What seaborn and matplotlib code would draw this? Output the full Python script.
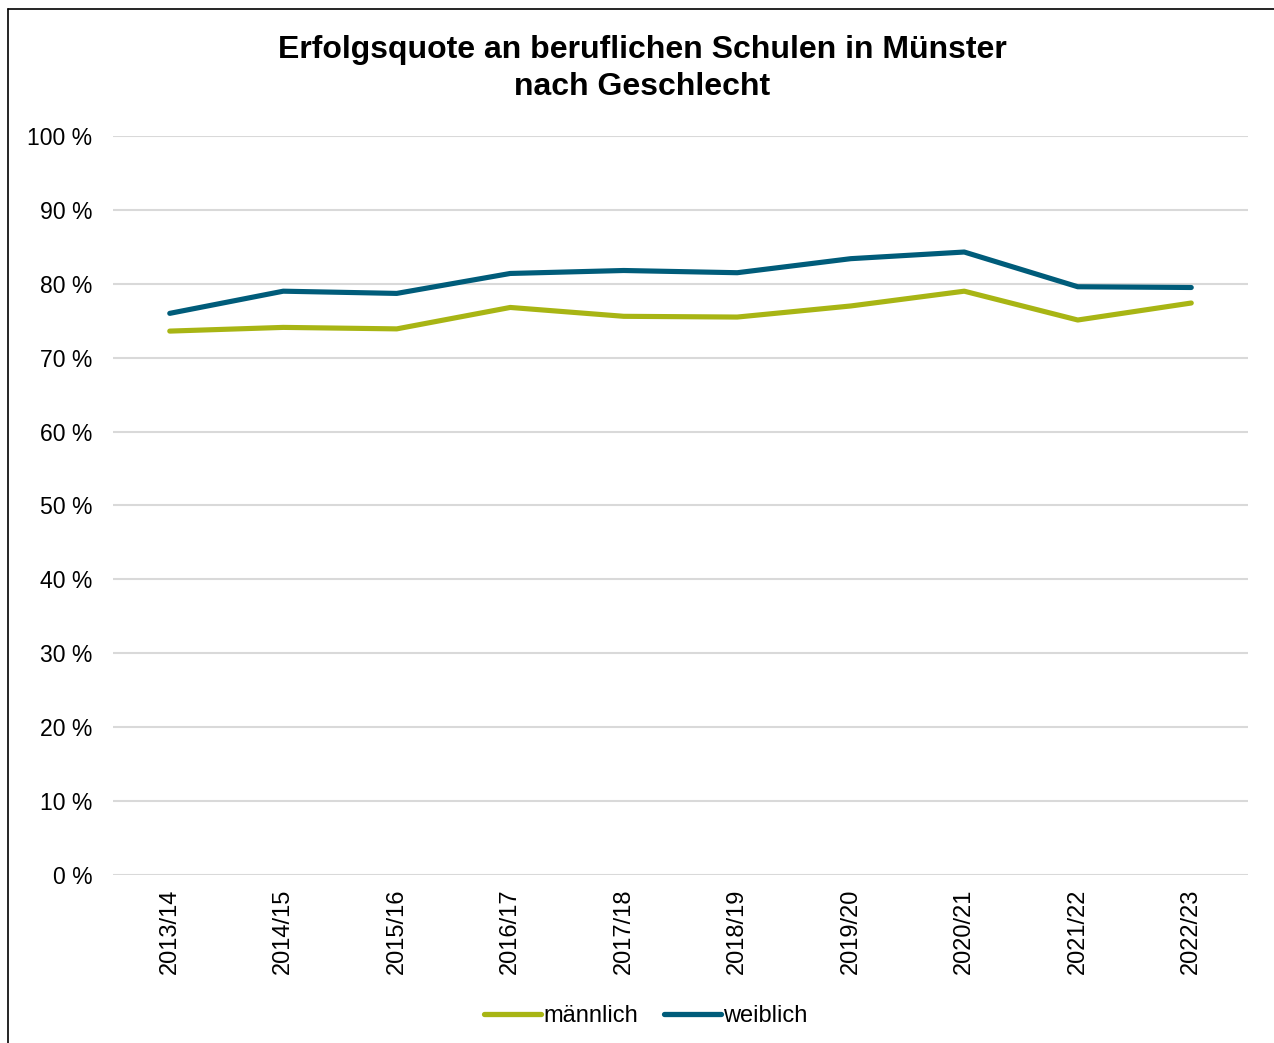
import pandas as pd
import seaborn as sns
import matplotlib.pyplot as plt
from matplotlib.lines import Line2D
from matplotlib.ticker import FuncFormatter

# =========================
# Data
# =========================
jahre = ['2013/14', '2014/15', '2015/16', '2016/17', '2017/18',
         '2018/19', '2019/20', '2020/21', '2021/22', '2022/23']
maennlich = [73.6, 74.1, 73.9, 76.8, 75.6, 75.5, 77.0, 79.0, 75.1, 77.4]
weiblich = [76.0, 79.0, 78.7, 81.4, 81.8, 81.5, 83.4, 84.3, 79.6, 79.5]

df = pd.DataFrame({
    'Jahr': jahre * 2,
    'Quote': maennlich + weiblich,
    'Geschlecht': ['männlich'] * len(jahre) + ['weiblich'] * len(jahre),
})

farben = {'männlich': '#A8B514', 'weiblich': '#005C7A'}

# =========================
# Plot
# =========================
sns.set_theme(style='white')
plt.rcParams['font.family'] = ['Liberation Sans', 'DejaVu Sans']
plt.rcParams['text.color'] = 'black'

fig = plt.figure(figsize=(12.74, 10.43), dpi=100)
ax = fig.add_axes([0.0887, 0.1611, 0.8909, 0.7085])

sns.lineplot(data=df, x='Jahr', y='Quote', hue='Geschlecht', palette=farben,
             linewidth=3.7, sort=False, ax=ax, legend=False,
             solid_capstyle='round')

ax.set_ylim(0, 100)
ax.set_xlim(-0.5, len(jahre) - 0.5)
ax.set_yticks(range(0, 101, 10))
ax.yaxis.set_major_formatter(FuncFormatter(lambda v, p: f'{int(v)} %'))
ax.grid(axis='y', color='#D9D9D9', linewidth=1.5)
ax.grid(axis='x', visible=False)
ax.set_axisbelow(True)
for s in ax.spines.values():
    s.set_visible(False)
ax.tick_params(axis='y', length=0, pad=15, labelsize=16.6, labelcolor='black')
ax.tick_params(axis='x', length=0, pad=10, labelsize=17, labelcolor='black',
               labelrotation=90)
ax.set_xlabel('')
ax.set_ylabel('')

fig.suptitle('Erfolgsquote an beruflichen Schulen in Münster\nnach Geschlecht',
             fontsize=23, fontweight='bold', x=0.504, y=0.934, va='center',
             linespacing=1.3, color='black')

handles = [Line2D([0], [0], color=farben[k], linewidth=3.8, solid_capstyle='round')
           for k in farben]
fig.legend(handles, list(farben.keys()), loc='center', ncol=2,
           bbox_to_anchor=(0.507, 0.026), frameon=False, fontsize=17,
           handlelength=2.4, handletextpad=0.1, columnspacing=1.1,
           labelcolor='black')

# frame like the exported chart area
fig.add_artist(Line2D([8 / 1274, 8 / 1274], [0, 1 - 9 / 1043], color='black',
                      linewidth=1.2, transform=fig.transFigure))
fig.add_artist(Line2D([8 / 1274, 1], [1 - 9 / 1043, 1 - 9 / 1043], color='black',
                      linewidth=1.2, transform=fig.transFigure))

fig.savefig('out.png', dpi=100, facecolor='white')
